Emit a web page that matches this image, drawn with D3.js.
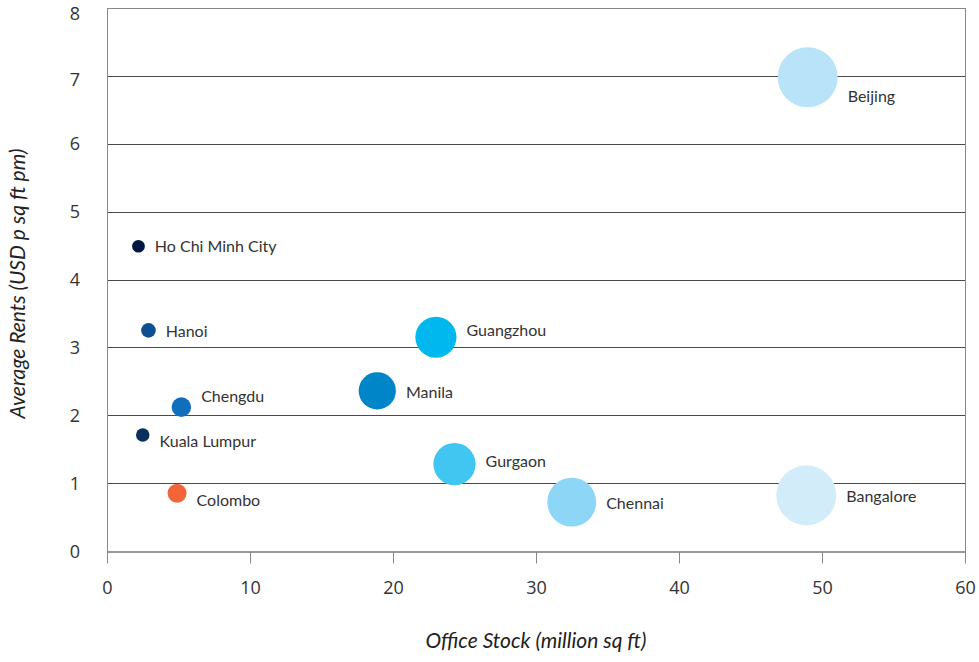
<!DOCTYPE html>
<html><head><meta charset="utf-8">
<script src="https://cdn.jsdelivr.net/npm/d3@7"></script>
<style>
html,body{margin:0;padding:0;background:#fff;}
svg{display:block;}
</style></head>
<body>
<script>
const cities = ["Beijing","Bangalore","Chennai","Gurgaon","Guangzhou","Manila","Chengdu","Colombo","Hanoi","Kuala Lumpur","Ho Chi Minh City"];
const officeStock = [49.0, 48.9, 32.5, 24.3, 23.0, 18.9, 5.2, 4.9, 2.9, 2.5, 2.2];
const avgRents = [6.98, 0.82, 0.72, 1.28, 3.15, 2.36, 2.12, 0.85, 3.25, 1.71, 4.49];
const colors = ["#b9e3f8","#d3ecfa","#8dd6f5","#40c6f1","#00b7ee","#0086c8","#0f6fbd","#f26539","#0c4f92","#0a2f5f","#00173f"];
const xTicks = [0,10,20,30,40,50,60];
const yTicks = [0,1,2,3,4,5,6,7,8];
const labelDy = [19, 1, 1, -3, -7, 2, -11, 7, 1, 6, 0];

const W = 979, H = 662;
const m = {left:107, right:14, top:8, bottom:111};
const svg = d3.select("body").append("svg").attr("width",W).attr("height",H);

const x = d3.scaleLinear().domain([0,60]).range([m.left, W-m.right]);
const y = d3.scaleLinear().domain([0,8]).range([H-m.bottom, m.top]);
const r = d3.scaleSqrt().domain([0,49]).range([0,30]);

// gridlines
svg.append("g").selectAll("line").data(yTicks.filter(d=>d>0&&d<8)).join("line")
  .attr("x1",x(0)).attr("x2",x(60))
  .attr("y1",d=>Math.round(y(d))+0.5).attr("y2",d=>Math.round(y(d))+0.5)
  .attr("stroke","#4a4a4a").attr("stroke-width",1);

// frame top
const fy0 = Math.round(y(8))+0.5;
svg.append("line").attr("x1",x(0)).attr("x2",x(60)).attr("y1",fy0).attr("y2",fy0).attr("stroke","#888");

// x axis
const xAxis = svg.append("g").attr("transform",`translate(0,${Math.round(y(0))+0.5})`)
  .call(d3.axisBottom(x).tickValues(xTicks).tickSize(12).tickPadding(18).tickSizeOuter(0));
xAxis.select(".domain").attr("stroke","#333");
xAxis.selectAll(".tick line").attr("stroke","#888");
xAxis.selectAll("text").attr("font-family","'Open Sans', sans-serif").attr("font-size",18).attr("fill","#333");

// left line & right line
[0,60].forEach(v=>{
  svg.append("line").attr("x1",Math.round(x(v))+0.5).attr("x2",Math.round(x(v))+0.5)
    .attr("y1",y(8)).attr("y2",y(0)+12).attr("stroke","#888");
});

// y axis labels
const yAxis = svg.append("g").attr("transform",`translate(${x(0)},0)`)
  .call(d3.axisLeft(y).tickValues(yTicks).tickSize(0).tickPadding(27));
yAxis.select(".domain").remove();
yAxis.selectAll("text").attr("font-family","'Open Sans', sans-serif").attr("font-size",18).attr("fill","#333")
  .attr("dy", d => d===8 ? "0.62em" : (d===7 ? "0.52em" : "0.34em"));

// bubbles
const data = cities.map((c,i)=>({c, s:officeStock[i], v:avgRents[i], col:colors[i], dy:labelDy[i]}));
svg.append("g").selectAll("circle").data(data).join("circle")
  .attr("cx",d=>x(d.s)).attr("cy",d=>y(d.v)).attr("r",d=>r(d.s)).attr("fill",d=>d.col);

svg.append("g").selectAll("text").data(data).join("text")
  .attr("x",d=>x(d.s)+r(d.s)+10).attr("y",d=>y(d.v)+d.dy)
  .attr("dy","0.35em")
  .attr("font-family","Lato, sans-serif").attr("font-size",16).attr("fill","#333")
  .text(d=>d.c);

// axis titles
svg.append("text").attr("x",(x(0)+x(60))/2).attr("y",648).attr("text-anchor","middle")
  .attr("font-family","Lato, sans-serif").attr("font-style","italic").attr("font-size",21).attr("fill","#222")
  .text("Office Stock (million sq ft)");
svg.append("text").attr("transform",`translate(25,${(y(0)+y(8))/2+4}) rotate(-90)`).attr("text-anchor","middle")
  .attr("font-family","Lato, sans-serif").attr("font-style","italic").attr("font-size",21).attr("fill","#222")
  .text("Average Rents (USD p sq ft pm)");
</script>
</body></html>
